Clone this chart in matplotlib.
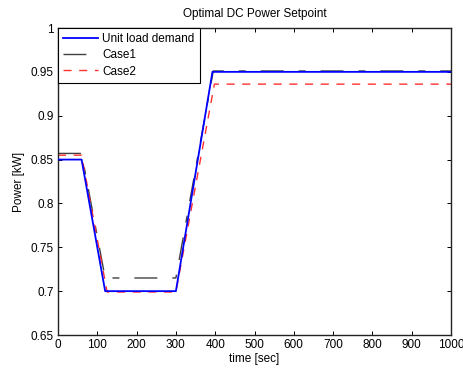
import matplotlib
matplotlib.use("Agg")
import matplotlib.pyplot as plt

plt.rcParams['font.family'] = ['Liberation Sans', 'DejaVu Sans']

# breakpoints of each profile (time [sec], power [kW])
t_demand = [0, 60, 120, 300, 393, 1000]
p_demand = [0.85, 0.85, 0.70, 0.70, 0.95, 0.95]

t_case1 = [0, 60, 120, 300, 395, 1000]
p_case1 = [0.857, 0.857, 0.715, 0.715, 0.951, 0.951]

t_case2 = [0, 60, 125, 300, 398, 1000]
p_case2 = [0.855, 0.855, 0.699, 0.699, 0.936, 0.936]

x_ticks = [0, 100, 200, 300, 400, 500, 600, 700, 800, 900, 1000]
y_ticks = [0.65, 0.7, 0.75, 0.8, 0.85, 0.9, 0.95, 1]
y_labels = ['0.65', '0.7', '0.75', '0.8', '0.85', '0.9', '0.95', '1']

fig = plt.figure(figsize=(4.63, 3.69), dpi=100)
ax = fig.add_axes([58 / 463, 1 - 335 / 369, (451 - 58) / 463, (335 - 28) / 369])

ax.plot(t_demand, p_demand, color='#0000ff', lw=1.3, label='Unit load demand', zorder=3)
ax.plot(t_case1, p_case1, color='#404040', lw=1.0, dashes=(16.5, 10.8, 5, 10.8),
        label='Case1', zorder=2)
ax.plot(t_case2, p_case2, color='#ff3030', lw=1.0, dashes=(5.8, 5.5),
        label='Case2', zorder=2)

ax.set_xlim(0, 1000)
ax.set_ylim(0.65, 1)
ax.set_xticks(x_ticks)
ax.set_yticks(y_ticks)
ax.set_yticklabels(y_labels)
ax.tick_params(direction='in', top=True, right=True, labelsize=8.5, length=3, width=0.7, pad=3)
for s in ax.spines.values():
    s.set_linewidth(1.0)
    s.set_color('#222222')

ax.set_title('Optimal DC Power Setpoint', fontsize=8.5, pad=8)
ax.set_xlabel('time [sec]', fontsize=8.5, labelpad=1)
ax.set_ylabel('Power [kW]', fontsize=8.5, labelpad=4)

leg = ax.legend(loc='upper left', fontsize=8.5, fancybox=False, framealpha=1,
                borderaxespad=0, handlelength=2.9, handletextpad=0.4,
                borderpad=0.45, labelspacing=0.35)
leg.get_frame().set_edgecolor('black')
leg.get_frame().set_linewidth(0.8)

fig.savefig('out.png', dpi=100)
